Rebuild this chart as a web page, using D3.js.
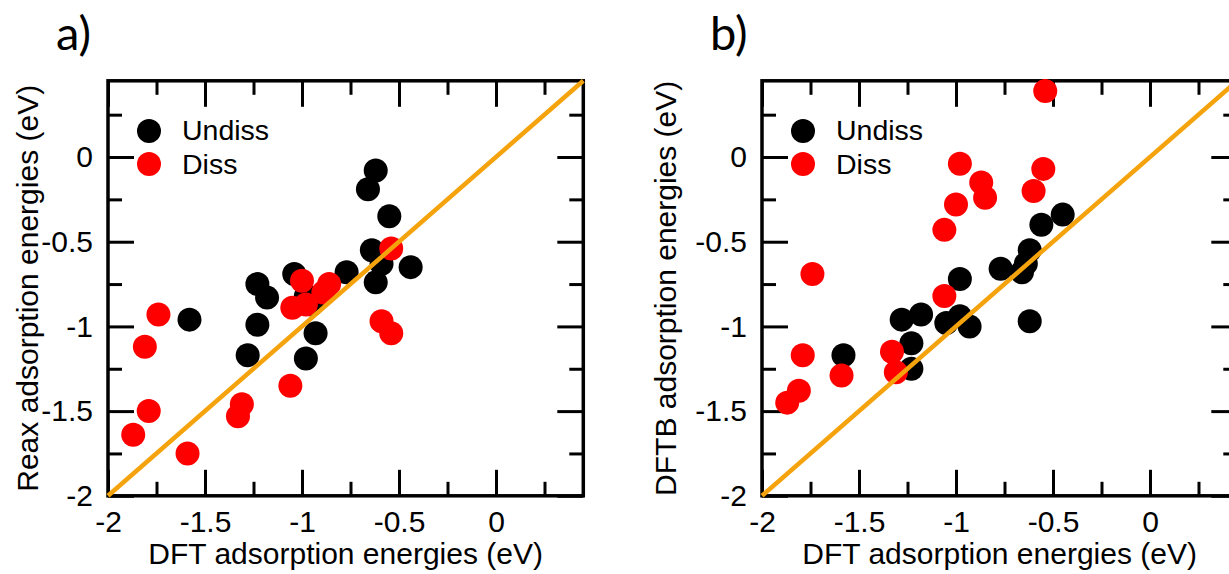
<!DOCTYPE html>
<html>
<head>
<meta charset="utf-8">
<script src="https://cdn.jsdelivr.net/npm/d3@7"></script>
<style>
  body { margin: 0; background: #fff; }
  svg { display: block; }
  .tick text { font-family: "Liberation Sans", Arial, sans-serif; font-size: 30px; fill: #000; }
  .tick line { stroke: #000; stroke-width: 3px; }
  .lbl { font-family: "Liberation Sans", Arial, sans-serif; font-size: 30px; fill: #000; }
  .leg { font-family: "Liberation Sans", Arial, sans-serif; font-size: 28.5px; fill: #000; }
  .panel { font-family: Lato, "Open Sans", sans-serif; font-size: 47px; fill: #000; }
</style>
</head>
<body>
<div class="cont"></div>
<script>
// ---- data (DFT energy, model energy) in eV ----
var reaxUndiss = [
  [-0.62, -0.08], [-0.66, -0.19], [-0.55, -0.35], [-0.64, -0.55], [-0.44, -0.65],
  [-0.59, -0.63], [-0.62, -0.74], [-0.77, -0.68], [-1.04, -0.69], [-1.23, -0.75],
  [-1.18, -0.83], [-0.98, -0.82], [-0.95, -0.87], [-1.58, -0.96], [-1.23, -0.99],
  [-1.28, -1.17], [-0.93, -1.04], [-0.98, -1.19]
];
var reaxDiss = [
  [-1.74, -0.93], [-1.81, -1.12], [-1.79, -1.50], [-1.87, -1.64], [-1.59, -1.75],
  [-1.31, -1.46], [-1.33, -1.53], [-1.06, -1.35], [-1.05, -0.89], [-0.98, -0.87],
  [-1.00, -0.73], [-0.86, -0.75], [-0.89, -0.80], [-0.59, -0.97], [-0.54, -1.04],
  [-0.54, -0.54]
];
var dftbUndiss = [
  [-0.45, -0.34], [-0.56, -0.40], [-0.62, -0.55], [-0.64, -0.63], [-0.66, -0.68],
  [-0.77, -0.66], [-0.98, -0.72], [-1.28, -0.96], [-1.18, -0.93], [-1.05, -0.98],
  [-0.98, -0.94], [-0.93, -1.00], [-0.62, -0.97], [-1.23, -1.10], [-1.23, -1.25],
  [-1.58, -1.17]
];
var dftbDiss = [
  [-0.54, 0.39], [-0.98, -0.04], [-0.55, -0.07], [-0.87, -0.15], [-0.85, -0.24],
  [-1.00, -0.28], [-0.60, -0.20], [-1.06, -0.43], [-1.74, -0.69], [-1.06, -0.82],
  [-1.79, -1.17], [-1.59, -1.29], [-1.33, -1.15], [-1.31, -1.27], [-1.81, -1.38],
  [-1.87, -1.45]
];

var axisRange = [-2, 0.45];
var majorTicks = [-2, -1.5, -1, -0.5, 0];
var minorTicks = [-1.75, -1.25, -0.75, -0.25, 0.25];
var seriesNames = ["Undiss", "Diss"];
var seriesColors = ["#000000", "#ff0000"];

var w = 1229,
h = 574;

var svg = d3.select(".cont").append("svg").
attr("width", w).
attr("height", h);

var fmt = function (d) {return d === 0 ? "0" : String(d);};

function panel(left, right, tag, yTitle, titleOff, undiss, diss) {
  var top = 80.8, bottom = 495.8;
  var x = d3.scaleLinear().domain(axisRange).range([left, right]);
  var y = d3.scaleLinear().domain(axisRange).range([bottom, top]);
  var g = svg.append("g");

  // ticks, all pointing inward
  g.append("g").attr("transform", "translate(0," + bottom + ")").
  call(d3.axisBottom(x).tickValues(majorTicks).tickFormat(fmt).tickSize(-26).tickSizeOuter(0).tickPadding(15));
  g.append("g").attr("transform", "translate(0," + bottom + ")").
  call(d3.axisBottom(x).tickValues(minorTicks).tickFormat("").tickSize(-14).tickSizeOuter(0));
  g.append("g").attr("transform", "translate(0," + top + ")").
  call(d3.axisTop(x).tickValues(majorTicks).tickFormat("").tickSize(-26).tickSizeOuter(0));
  g.append("g").attr("transform", "translate(0," + top + ")").
  call(d3.axisTop(x).tickValues(minorTicks).tickFormat("").tickSize(-14).tickSizeOuter(0));
  g.append("g").attr("transform", "translate(" + left + ",0)").
  call(d3.axisLeft(y).tickValues(majorTicks).tickFormat(fmt).tickSize(-26).tickSizeOuter(0).tickPadding(15));
  g.append("g").attr("transform", "translate(" + left + ",0)").
  call(d3.axisLeft(y).tickValues(minorTicks).tickFormat("").tickSize(-14).tickSizeOuter(0));
  g.append("g").attr("transform", "translate(" + right + ",0)").
  call(d3.axisRight(y).tickValues(majorTicks).tickFormat("").tickSize(-26).tickSizeOuter(0));
  g.append("g").attr("transform", "translate(" + right + ",0)").
  call(d3.axisRight(y).tickValues(minorTicks).tickFormat("").tickSize(-14).tickSizeOuter(0));
  g.selectAll(".domain").remove();

  g.append("rect").
  attr("x", left).attr("y", top).
  attr("width", right - left).attr("height", bottom - top).
  attr("fill", "none").attr("stroke", "#000").attr("stroke-width", 3.5);

  // points
  [undiss, diss].forEach(function (s, i) {
    g.append("g").selectAll("circle").
    data(s).
    enter().append("circle").
    attr("cx", function (d) {return x(d[0]);}).
    attr("cy", function (d) {return y(d[1]);}).
    attr("r", 12).
    attr("fill", seriesColors[i]);
  });

  // y = x line
  g.append("line").
  attr("x1", x(axisRange[0])).attr("y1", y(axisRange[0])).
  attr("x2", x(axisRange[1])).attr("y2", y(axisRange[1])).
  attr("stroke", "#f5a30c").attr("stroke-width", 4.5);

  // legend
  seriesNames.forEach(function (n, i) {
    g.append("circle").
    attr("cx", left + 41).attr("cy", 131 + i * 33).
    attr("r", 12).attr("fill", seriesColors[i]);
    g.append("text").attr("class", "leg").
    attr("x", left + 74).attr("y", 140 + i * 34).
    text(n);
  });

  g.append("text").attr("class", "lbl").
  attr("x", (left + right) / 2).attr("y", 564).
  attr("text-anchor", "middle").
  text("DFT adsorption energies (eV)");

  g.append("text").attr("class", "lbl").
  attr("transform", "translate(" + (left - titleOff) + "," + ((top + bottom) / 2) + ") rotate(-90)").
  attr("text-anchor", "middle").
  text(yTitle);

  g.append("text").attr("class", "panel").
  attr("x", left - 52).attr("y", 50).
  text(tag);
}

panel(108, 583.3, "a)", "Reax adsorption energies (eV)", 70, reaxUndiss, reaxDiss);
panel(762, 1237.3, "b)", "DFTB adsorption energies (eV)", 86, dftbUndiss, dftbDiss);
</script>
</body>
</html>
